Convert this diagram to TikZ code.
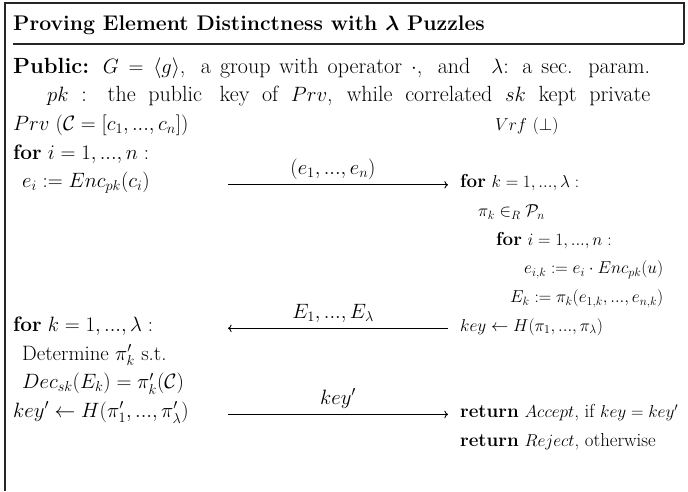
\documentclass[tikz,border=0pt]{standalone}
\usepackage{amsmath}
\usetikzlibrary{arrows.meta}
\begin{document}
\begin{tikzpicture}[x=1pt,y=-1pt,
  txt/.style={anchor=base west, inner sep=0pt, font=\fontsize{20.8}{25}\selectfont},
  wtx/.style={anchor=base west, inner sep=0pt, font=\fontsize{22}{26}\selectfont},
  rtx/.style={anchor=base west, inner sep=0pt, font=\fontsize{18.8}{22}\selectfont},
  lbl/.style={anchor=base, inner sep=0pt, font=\fontsize{20.8}{25}\selectfont},
  ttl/.style={anchor=base west, inner sep=0pt, font=\fontsize{21.2}{26}\selectfont\bfseries},
  msg/.style={-{Computer Modern Rightarrow}, line width=0.9pt},
  frame/.style={line width=1.4pt, draw=black!85}]
\useasboundingbox (0,0) rectangle (688,491);
% frame
\coordinate (tl) at (5,3);
\coordinate (tr) at (684,3);
\coordinate (rr) at (684,44);
\coordinate (rl) at (13,44);
\coordinate (bl) at (5,491);
\draw[frame] (bl) -- (tl) -- (tr) -- (rr);
\draw[frame] (rl) -- (rr);
% title
\node[ttl] (title) at (13,30) {Proving Element Distinctness with $\boldsymbol{\lambda}$ Puzzles};
% rows: baseline = 73 + 28.7k
\node[wtx] (pub) at (13,73) {\makebox[637pt][s]{\textbf{Public:} $G=\langle g\rangle$,\hspace{6pt} a group with operator $\cdot$,\hspace{6pt} and\hspace{12pt} $\lambda$: a sec. param.}};
\node[wtx] (pk) at (47,101.7) {\makebox[603pt][s]{$pk$ : the public\hspace{5pt} key of $Prv$, while correlated $sk$ kept private}};
\node[txt] (prv) at (13,130.4) {$Prv\ (\mathcal{C}=[c_1, ..., c_n])$};
\node[rtx] (vrf) at (495,130.4) {$Vrf\ (\perp)$};
\node[txt] (fori) at (13,159.1) {\textbf{for} $i=1, ..., n:$};
\node[txt] (enc) at (22,187.8) {$e_i := Enc_{pk}(c_i)$};
\node[rtx] (fork) at (460,187.8) {\textbf{for} $k=1, ..., \lambda:$};
\coordinate (a1s) at (228,184.8);
\coordinate (a1e) at (448,184.8);
\draw[msg] (a1s) -- (a1e);
\node[lbl] (l1) at (333,174.8) {$(e_1, ..., e_n)$};
\node[rtx] (perm) at (478,216.5) {$\pi_k \in_R \mathcal{P}_n$};
\node[rtx] (fori2) at (496,245.2) {\textbf{for} $i=1, ..., n:$};
\node[rtx] (eik) at (524,273.9) {$e_{i,k} := e_i \cdot Enc_{pk}(u)$};
\node[rtx] (Ek) at (510,302.6) {$E_k := \pi_k(e_{1,k}, ..., e_{n,k})$};
\node[txt] (fork2) at (13,331.3) {\textbf{for} $k=1, ..., \lambda:$};
\node[rtx] (key) at (460,331.3) {$key \leftarrow H(\pi_1, ..., \pi_\lambda)$};
\coordinate (a2s) at (448,328.3);
\coordinate (a2e) at (228,328.3);
\draw[msg] (a2s) -- (a2e);
\node[lbl] (l2) at (333,318.3) {$E_1, ..., E_\lambda$};
\node[txt] (det) at (22,360) {Determine $\pi'_k$ s.t.};
\node[txt] (dec) at (22,388.7) {$Dec_{sk}(E_k) = \pi'_k(\mathcal{C})$};
\node[txt] (keyp) at (13,417.4) {$key' \leftarrow H(\pi'_1, ..., \pi'_\lambda)$};
\coordinate (a3s) at (228,414.4);
\coordinate (a3e) at (448,414.4);
\draw[msg] (a3s) -- (a3e);
\node[lbl] (l3) at (338,404.4) {$key'$};
\node[rtx] (acc) at (460,417.4) {\textbf{return} $Accept$, if $key=key'$};
\node[rtx] (rej) at (460,446.1) {\textbf{return} $Reject$, otherwise};
\end{tikzpicture}
\end{document}
